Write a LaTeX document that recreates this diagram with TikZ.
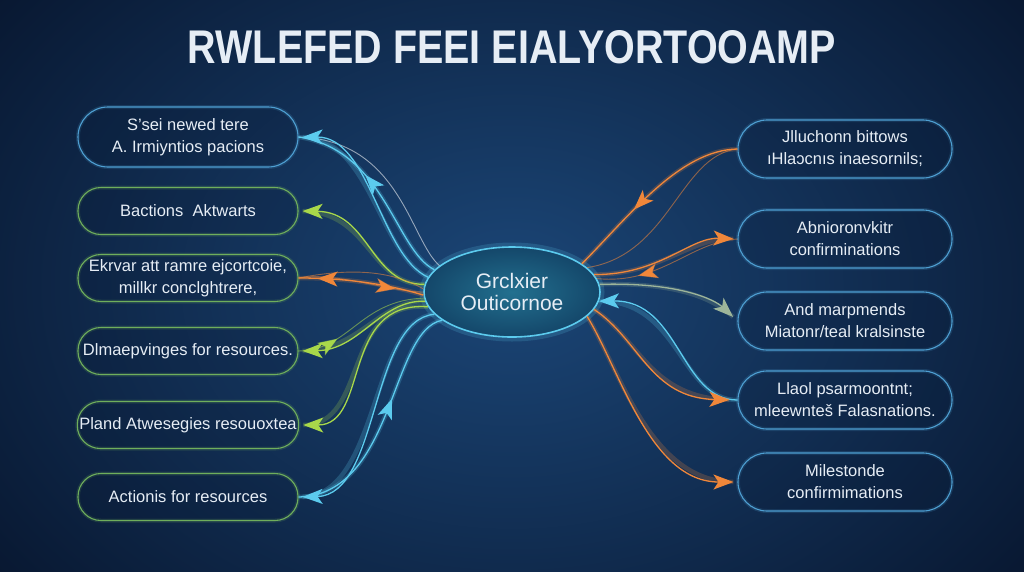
\documentclass[tikz,border=0pt]{standalone}
\usepackage{fontspec}
\setmainfont{Liberation Sans}
\usetikzlibrary{shapes.geometric,arrows.meta,decorations.markings}
\definecolor{bgin}{HTML}{1B4677}
\definecolor{bgout}{HTML}{081730}
\definecolor{cyanl}{HTML}{5CCBEE}
\definecolor{greenl}{HTML}{A8D84A}
\definecolor{orangel}{HTML}{F0873A}
\definecolor{grayg}{HTML}{9DB59A}
\definecolor{boxblue}{HTML}{4E9FD2}
\definecolor{boxgreen}{HTML}{6FAE5C}
\definecolor{txt}{HTML}{E6EDF5}
\definecolor{ellin}{HTML}{22708F}
\definecolor{ellout}{HTML}{14476A}
\begin{document}
\begin{tikzpicture}[x=1pt,y=-1pt,
  boxbase/.style={rounded corners=#1, fill=bgout, fill opacity=0.18, text opacity=1, text=txt, align=center, font=\fontsize{16.5}{22}\selectfont, inner sep=2pt},
  lbox/.style={boxbase=23, minimum width=220pt, minimum height=47pt, draw=boxgreen, line width=1.1pt, preaction={draw=boxgreen, line width=4pt, draw opacity=0.18}},
  lboxb/.style={boxbase=30, minimum width=220pt, minimum height=60pt, draw=boxblue, line width=1.1pt, preaction={draw=boxblue, line width=4pt, draw opacity=0.18}},
  rbox/.style={boxbase=29, minimum width=214pt, minimum height=58pt, draw=boxblue, line width=1.1pt, preaction={draw=boxblue, line width=4pt, draw opacity=0.18}},
  glow/.style={draw=#1, line width=1.3pt, preaction={draw=#1, line width=4.5pt, draw opacity=0.22, arrows=-}},
  faint/.style={draw=#1, line width=0.9pt, draw opacity=0.55},
  tip/.style={-{Stealth[length=20pt,width=15pt,inset=5pt]}},
  midarrow/.style={postaction={decorate, decoration={markings, mark=at position #1 with {\arrow{Stealth[length=20pt,width=15pt,inset=5pt]}}}}}
]
\useasboundingbox (0,0) rectangle (1024,571);
\shade[inner color=bgin, outer color=bgout] (-150,-200) rectangle (1174,771);

% title
\node[text=txt] (title) at (512,47) {\resizebox{648pt}{33pt}{\bfseries RWLEFED FEEI EIALYORTOOAMP}};

% centre
\node[ellipse, minimum width=176pt, minimum height=90pt, inner color=ellin, outer color=ellout, draw=cyanl, line width=1.6pt,
      preaction={draw=cyanl, line width=9pt, draw opacity=0.18},
      text=txt, align=center, font=\fontsize{21}{22}\selectfont, inner sep=0pt] (c) at (512,292) {Grclxier\\Outicornoe};

% left boxes
\node[lboxb] (l1) at (188,137) {S'sei newed tere\\A. Irmiyntios pacions};
\node[lbox] (l2) at (188,211) {Bactions\ \ Aktwarts};
\node[lbox] (l3) at (188,278) {Ekrvar att ramre ejcortcoie,\\millkr conclghtrere,};
\node[lbox] (l4) at (188,351) {Dlmaepvinges for resources.};
\node[lbox] (l5) at (188,425) {Pland Atwesegies resouoxtea};
\node[lbox] (l6) at (188,497) {Actionis for resources};

% right boxes
\node[rbox] (r1) at (845,149) {Jlluchonn bittows\\ıHlaɔcnıs inaesornils;};
\node[rbox] (r2) at (845,239) {Abnioronvkitr\\confirminations};
\node[rbox] (r3) at (845,321) {And marpmends\\Miatonr/teal kralsinste};
\node[rbox] (r4) at (845,400) {Llaol psarmoontnt;\\mleewnteš Falasnations.};
\node[rbox] (r5) at (845,482) {Milestonde\\confirmimations};

% left connectors
\draw[faint=white] (c.160) .. controls (410,240) and (400,140) .. (l1.east);
\draw[glow=cyanl, midarrow=0.6] (c.164) .. controls (395,250) and (385,150) .. (l1.east);
\draw[glow=cyanl, tip, shorten >=4pt] (c.170) .. controls (380,255) and (370,137) .. (l1.east);
\draw[glow=greenl, tip, shorten >=4pt] (c.175) .. controls (370,285) and (370,212) .. (l2.east);
\draw[glow=orangel, midarrow=0.85] (c.182) .. controls (390,285) and (350,278) .. (l3.east);
\draw[faint=orangel, midarrow=0.78] (l3.east) .. controls (340,272) and (390,292) .. (c.180);
\draw[faint=orangel] (c.178) .. controls (390,270) and (350,268) .. (l3.east);
\draw[faint=greenl, midarrow=0.3] (l4.east) .. controls (350,350) and (360,300) .. (c.184);
\draw[glow=greenl, tip, shorten >=4pt] (c.186) .. controls (380,300) and (360,350) .. (l4.east);
\draw[glow=greenl, tip, shorten >=4pt] (c.190) .. controls (340,300) and (370,425) .. (l5.east);
\draw[glow=cyanl, tip, shorten >=4pt] (c.196) .. controls (370,320) and (380,495) .. (l6.east);
\draw[glow=cyanl, midarrow=0.6] (l6.east) .. controls (395,495) and (390,330) .. (c.202);

% right connectors
\draw[glow=orangel, midarrow=0.62] (r1.west) .. controls (680,150) and (630,215) .. (c.22);
\draw[faint=orangel] (c.18) .. controls (670,255) and (680,155) .. (r1.west);
\draw[glow=orangel, tip, shorten >=4pt] (c.12) .. controls (660,275) and (690,237) .. (r2.west);
\draw[faint=orangel, midarrow=0.72] (r2.west) .. controls (690,242) and (660,285) .. (c.9);
\draw[glow=grayg, tip, shorten >=6pt] (c.5) .. controls (680,282) and (715,300) .. (r3.west);
\draw[glow=cyanl, tip] (r4.west) .. controls (680,400) and (680,300) .. (c.-6);
\draw[glow=orangel, tip, shorten >=8pt] (c.-12) .. controls (640,340) and (650,398) .. (r4.west);
\draw[glow=orangel, tip, shorten >=4pt] (c.-18) .. controls (620,370) and (650,482) .. (r5.west);
\end{tikzpicture}
\end{document}
